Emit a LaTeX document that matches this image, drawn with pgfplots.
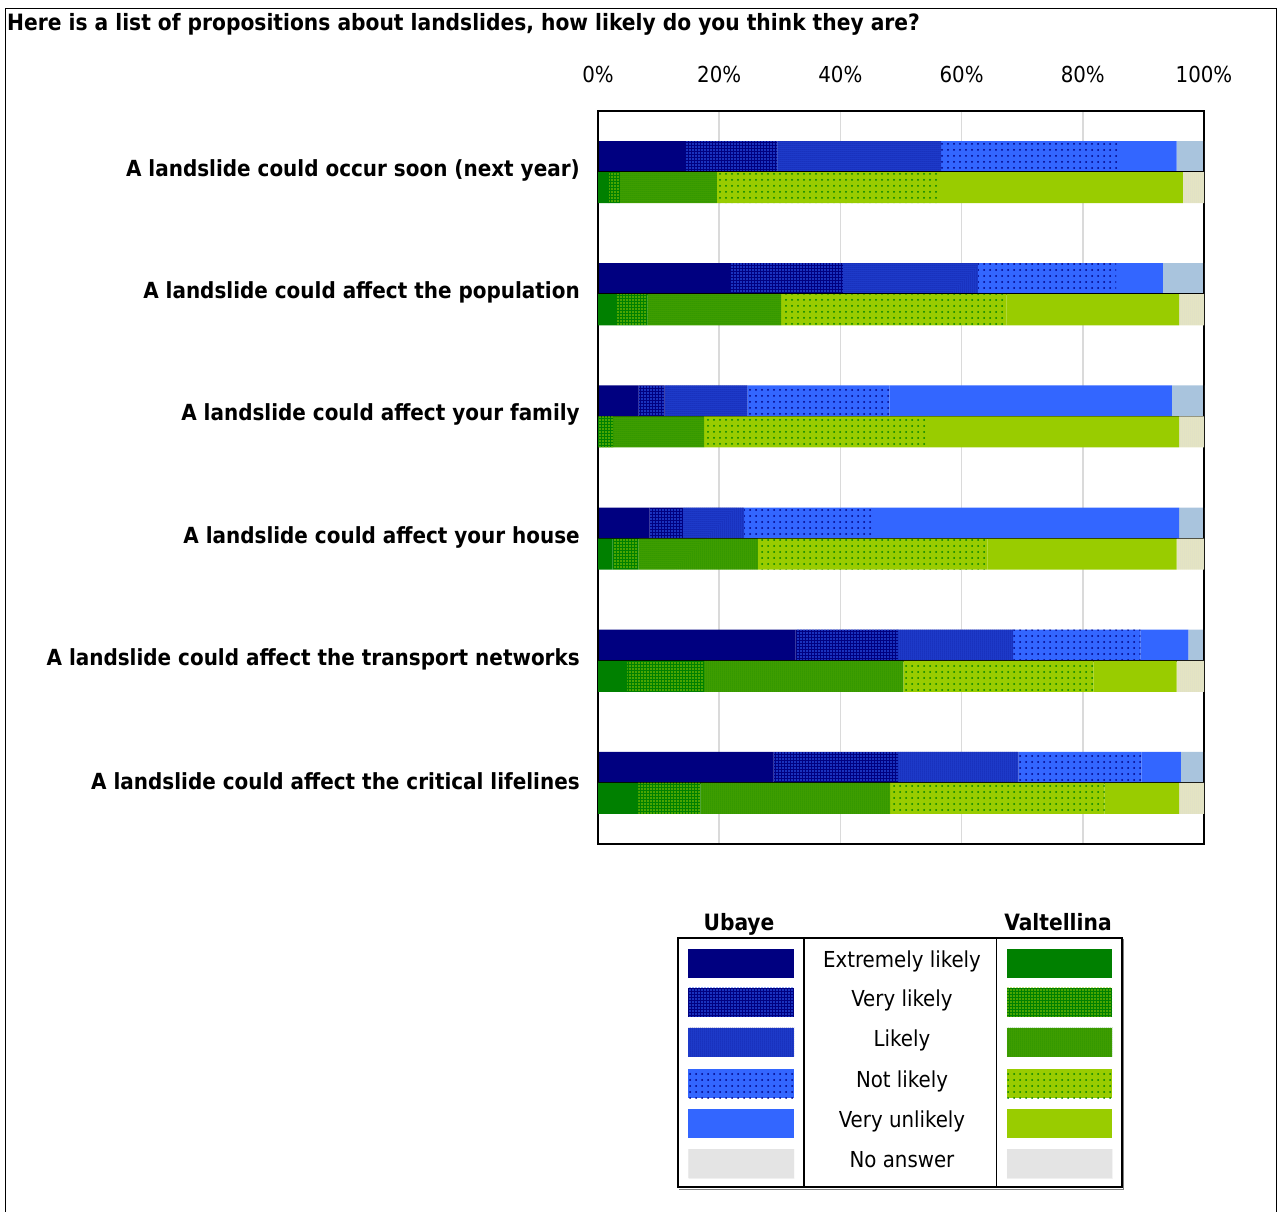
\documentclass[border=0pt]{standalone}
\usepackage{fontspec}
\setmainfont{DejaVu Sans Condensed}
\usepackage{pgfplots}
\usepackage{pgfplotstable}
\pgfplotsset{compat=1.18}
\usetikzlibrary{patterns.meta}

\definecolor{uEL}{HTML}{000080}
\definecolor{uLk}{HTML}{2040D0}
\definecolor{uVU}{HTML}{3366FF}
\definecolor{uNA}{HTML}{A9C4DD}
\definecolor{vEL}{HTML}{008000}
\definecolor{vLk}{HTML}{44A000}
\definecolor{vVU}{HTML}{99CC00}
\definecolor{vNA}{HTML}{E6E6C2}
\definecolor{gridc}{HTML}{DADADA}

\tikzset{
  uel/.style={fill=uEL, draw=none},
  uvl/.style={fill=uEL, draw=none, postaction={pattern={Dots[distance=3pt, radius=0.8pt]}, pattern color=uVU}},
  ulk/.style={fill=uLk, draw=none, postaction={pattern={Dots[distance=2pt, radius=0.5pt]}, pattern color=uEL}},
  unl/.style={fill=uVU, draw=none, postaction={pattern={Dots[distance=6pt, radius=1pt]}, pattern color=uEL}},
  uvu/.style={fill=uVU, draw=none},
  una/.style={fill=uNA, draw=none},
  vel/.style={fill=vEL, draw=none},
  vvl/.style={fill=vEL, draw=none, postaction={pattern={Dots[distance=3pt, radius=0.8pt]}, pattern color=vVU}},
  vlk/.style={fill=vLk, draw=none, postaction={pattern={Dots[distance=2pt, radius=0.5pt]}, pattern color=vEL}},
  vnl/.style={fill=vVU, draw=none, postaction={pattern={Dots[distance=6pt, radius=1pt]}, pattern color=vEL}},
  vvu/.style={fill=vVU, draw=none},
  vna/.style={fill=vNA, draw=none, postaction={pattern={Dots[distance=2pt, radius=0.5pt]}, pattern color=gray!35}},
  lna/.style={fill=gray!12, draw=none, postaction={pattern={Dots[distance=2pt, radius=0.6pt]}, pattern color=gray!50}},
}

\pgfplotstableread{
y EL VL L NL VU NA
0 14.5 15.1 27.0 29.5 9.4 4.5
1 21.8 18.6 22.3 22.8 7.7 6.8
2 6.7 4.3 13.7 23.4 46.6 5.3
3 8.5 5.5 10.1 21.1 50.7 4.1
4 32.6 16.9 19.0 21.0 7.9 2.6
5 29.0 20.5 19.9 20.3 6.5 3.8
}\ubaye

\pgfplotstableread{
y EL VL L NL VU NA
0 1.8 1.8 16.0 36.8 40.1 3.5
1 3.0 5.2 22.0 37.2 28.5 4.1
2 0.0 2.5 15.0 37.1 41.3 4.1
3 2.4 4.3 19.7 37.9 31.2 4.5
4 4.8 12.7 32.9 31.4 13.7 4.5
5 6.6 10.3 31.3 35.4 12.3 4.1
}\valtellina

\newcommand{\fs}[1]{\fontsize{#1}{#1}\selectfont}

\begin{document}
\begin{tikzpicture}[x=1pt,y=1pt]
\path[use as bounding box] (0,0) rectangle (1279,1212);
% outer frame
\draw[black, line width=1.5pt] (5.5,0) -- (5.5,1203.5) -- (1276.5,1203.5) -- (1276.5,0);
% title
\node[anchor=base west, inner sep=0pt, font=\fs{22.5}\bfseries] at (7,1181)
  {Here is a list of propositions about landslides, how likely do you think they are?};

\begin{axis}[
  at={(598pt,368pt)}, anchor=south west, scale only axis,
  width=606pt, height=733pt,
  xmin=0, xmax=100, ymin=-0.5, ymax=5.5, y dir=reverse,
  xbar stacked, bar width=0.254, bar shift=-0.127,
  xtick={0,20,40,60,80,100},
  xticklabels={0\%,20\%,40\%,60\%,80\%,100\%},
  xticklabel pos=upper,
  xmajorgrids, major grid style={draw=gridc, line width=1.5pt},
  ytick={0,1,2,3,4,5},
  yticklabels={A landslide could occur soon (next year),
    A landslide could affect the population,
    A landslide could affect your family,
    A landslide could affect your house,
    A landslide could affect the transport networks,
    A landslide could affect the critical lifelines},
  major tick length=0pt,
  axis line style={black, line width=1.5pt},
  xticklabel style={font=\fs{22}, anchor=center, yshift=37pt},
  yticklabel style={font=\fs{22.2}\bfseries, anchor=east, inner sep=0pt, xshift=-18pt, yshift=1.5pt},
]
\addplot[uel] table[x=EL, y=y] {\ubaye};
\addplot[uvl] table[x=VL, y=y] {\ubaye};
\addplot[ulk] table[x=L, y=y] {\ubaye};
\addplot[unl] table[x=NL, y=y] {\ubaye};
\addplot[uvu] table[x=VU, y=y] {\ubaye};
\addplot[una] table[x=NA, y=y] {\ubaye};
\end{axis}

\begin{axis}[
  at={(598pt,368pt)}, anchor=south west, scale only axis,
  width=606pt, height=733pt,
  xmin=0, xmax=100, ymin=-0.5, ymax=5.5, y dir=reverse,
  xbar stacked, bar width=0.254, bar shift=0.127,
  hide axis,
]
\addplot[vel] table[x=EL, y=y] {\valtellina};
\addplot[vvl] table[x=VL, y=y] {\valtellina};
\addplot[vlk] table[x=L, y=y] {\valtellina};
\addplot[vnl] table[x=NL, y=y] {\valtellina};
\addplot[vvu] table[x=VU, y=y] {\valtellina};
\addplot[vna] table[x=NA, y=y] {\valtellina};
\pgfplotsinvokeforeach{0,1,2,3,4,5}{
  \draw[black, line width=1.5pt] (axis cs:0,#1) -- (axis cs:100,#1);
}
\draw[black, line width=1.5pt] (rel axis cs:0,0) rectangle (rel axis cs:1,1);
\end{axis}

% legend
\begin{scope}[font=\fs{22}]
\draw[black, line width=1.5pt] (678,25) rectangle (1122,274);
\draw[black, line width=1.5pt] (804,25) -- (804,274);
\draw[black, line width=1.5pt] (996.5,25) -- (996.5,274);
\draw[gray, line width=1pt] (679,22.5) -- (1123,22.5) -- (1123,273);
\node[anchor=base, inner sep=0pt, font=\fs{22.5}\bfseries] at (739,281) {Ubaye};
\node[anchor=base, inner sep=0pt, font=\fs{22.5}\bfseries] at (1058,281) {Valtellina};
\foreach \yc/\us/\vs/\lab in {963.8/uel/vel/Extremely likely,
                              1002.2/uvl/vvl/Very likely,
                              1042.2/ulk/vlk/Likely,
                              1083.8/unl/vnl/Not likely,
                              1123.8/uvu/vvu/Very unlikely,
                              1163.8/lna/lna/No answer}{
  \path[\us] (688.3,1212-\yc-14.5) rectangle (794,1212-\yc+14.5);
  \path[\vs] (1006.7,1212-\yc-14.5) rectangle (1112.3,1212-\yc+14.5);
  \node[anchor=base, inner sep=0pt] at (902,1212-\yc-4) {\lab};
}
\end{scope}
\end{tikzpicture}
\end{document}
